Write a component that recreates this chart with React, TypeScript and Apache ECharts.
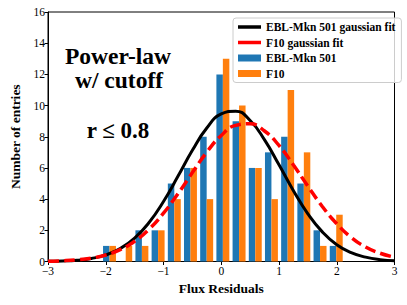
import React, { useEffect, useRef } from "react";
import * as echarts from "echarts";

const binEdges = [-2.075, -1.795, -1.514, -1.234, -0.953, -0.673, -0.393, -0.112, 0.168, 0.449, 0.729, 1.009, 1.29, 1.57, 1.851, 2.131];
const eblCounts = [1, 0, 2, 2, 5, 6, 8, 12, 9, 6, 7, 8, 5, 2, 1];
const f10Counts = [1, 1, 1, 2, 4, 6, 4, 13, 10, 6, 4, 11, 7, 1, 3];

const curveX = [-3, -2.75, -2.5, -2.25, -2, -1.75, -1.5, -1.25, -1, -0.75, -0.5, -0.25, 0, 0.25, 0.5, 0.75, 1, 1.25, 1.5, 1.75, 2, 2.25, 2.5, 2.75, 3];
const eblFit = [0.012, 0.033, 0.084, 0.196, 0.42, 0.83, 1.5, 2.5, 3.85, 5.46, 7.13, 8.56, 9.46, 9.64, 9.04, 7.8, 6.2, 4.54, 3.06, 1.9, 1.08, 0.57, 0.28, 0.12, 0.05];
const f10Fit = [0.02, 0.047, 0.105, 0.217, 0.42, 0.76, 1.3, 2.07, 3.1, 4.34, 5.7, 7.01, 8.08, 8.73, 8.83, 8.37, 7.44, 6.19, 4.83, 3.53, 2.42, 1.55, 0.93, 0.53, 0.28];

const xTicks = [-3, -2, -1, 0, 1, 2, 3];
const yTicks = [0, 2, 4, 6, 8, 10, 12, 14, 16];

const SERIF = "Liberation Serif";
const LINE_ICON = "path://M0,0 L46,0 L46,7 L0,7 Z";

function barRender(offsetFrac: number) {
  return (params: any, api: any) => {
    const i = params.dataIndex;
    const left = binEdges[i];
    const w = binEdges[i + 1] - binEdges[i];
    const x0 = left + w * offsetFrac;
    const x1 = left + w * (offsetFrac + 0.4);
    const p0 = api.coord([x0, api.value(1)]);
    const p1 = api.coord([x1, 0]);
    return {
      type: "rect",
      shape: { x: p0[0], y: p0[1], width: p1[0] - p0[0], height: p1[1] - p0[1] },
      style: api.style(),
    };
  };
}

export default function App() {
  const ref = useRef<HTMLDivElement>(null);
  useEffect(() => {
    document.body.style.margin = "0";
    const chart = echarts.init(ref.current!, null, { renderer: "svg" });
    const minus = (v: number) => String(v).replace("-", "\u2212");
    chart.setOption({
      animation: false,
      backgroundColor: "#fff",
      textStyle: { fontFamily: SERIF },
      grid: {
        left: 44,
        right: 12.5,
        top: 12,
        bottom: 43.5,
        show: true,
        borderColor: "#000",
        borderWidth: 1,
        backgroundColor: "transparent",
      },
      xAxis: {
        type: "value",
        min: xTicks[0],
        max: xTicks[xTicks.length - 1],
        interval: 1,
        name: "Flux Residuals",
        nameLocation: "middle",
        nameGap: 19,
        nameTextStyle: { fontFamily: SERIF, fontWeight: "bold", fontSize: 13.5, color: "#000" },
        axisLine: { show: true, onZero: false, lineStyle: { color: "#000", width: 1 } },
        axisTick: { show: true, length: 3.5, lineStyle: { color: "#000" } },
        axisLabel: { fontFamily: SERIF, fontSize: 11.5, color: "#000", margin: 3, formatter: minus },
        splitLine: { show: false },
      },
      yAxis: {
        type: "value",
        min: yTicks[0],
        max: yTicks[yTicks.length - 1],
        interval: 2,
        name: "Number of entries",
        nameLocation: "middle",
        nameGap: 26,
        nameTextStyle: { fontFamily: SERIF, fontWeight: "bold", fontSize: 13.5, color: "#000" },
        axisLine: { show: true, onZero: false, lineStyle: { color: "#000", width: 1 } },
        axisTick: { show: true, length: 3.5, lineStyle: { color: "#000" } },
        axisLabel: { fontFamily: SERIF, fontSize: 11.5, color: "#000", margin: 3 },
        splitLine: { show: false },
      },
      legend: {
        orient: "vertical",
        left: 233,
        top: 18,
        padding: [3, 6, 3, 5],
        itemGap: 3.5,
        itemWidth: 23,
        itemHeight: 7,
        symbolKeepAspect: true,
        borderColor: "#ccc",
        borderWidth: 1,
        borderRadius: 3,
        backgroundColor: "rgba(255,255,255,0.8)",
        textStyle: { fontFamily: SERIF, fontWeight: "bold", fontSize: 11.5, color: "#000" },
        data: [
          { name: "EBL-Mkn 501 gaussian fit", icon: LINE_ICON, itemStyle: { color: "#000" } },
          { name: "F10 gaussian fit", icon: LINE_ICON, itemStyle: { color: "#ff0000" } },
          { name: "EBL-Mkn 501", icon: "rect" },
          { name: "F10", icon: "rect" },
        ],
      },
      graphic: [
        { type: "text", x: 118, y: 55.5, style: { text: "Power-law", fontFamily: SERIF, fontWeight: "bold", fontSize: 23.5, fill: "#000", align: "center", verticalAlign: "middle" } },
        { type: "text", x: 119, y: 79.5, style: { text: "w/ cutoff", fontFamily: SERIF, fontWeight: "bold", fontSize: 23.5, fill: "#000", align: "center", verticalAlign: "middle" } },
        { type: "text", x: 118, y: 130, style: { text: "r \u2264 0.8", fontFamily: SERIF, fontWeight: "bold", fontSize: 23, fill: "#000", align: "center", verticalAlign: "middle" } },
      ],
      series: [
        {
          name: "EBL-Mkn 501",
          type: "custom",
          renderItem: barRender(0.1),
          itemStyle: { color: "#1f77b4" },
          encode: { x: 0, y: 1 },
          data: eblCounts.map((c, i) => [binEdges[i], c]),
          z: 2,
        },
        {
          name: "F10",
          type: "custom",
          renderItem: barRender(0.5),
          itemStyle: { color: "#ff7f0e" },
          encode: { x: 0, y: 1 },
          data: f10Counts.map((c, i) => [binEdges[i], c]),
          z: 2,
        },
        {
          name: "EBL-Mkn 501 gaussian fit",
          type: "line",
          smooth: true,
          showSymbol: false,
          symbol: "none",
          lineStyle: { color: "#000", width: 3 },
          itemStyle: { color: "#000" },
          data: curveX.map((x, i) => [x, eblFit[i]]),
          z: 3,
        },
        {
          name: "F10 gaussian fit",
          type: "line",
          smooth: true,
          showSymbol: false,
          symbol: "none",
          lineStyle: { color: "#ff0000", width: 3.5, type: [11, 5] },
          itemStyle: { color: "#ff0000" },
          data: curveX.map((x, i) => [x, f10Fit[i]]),
          z: 4,
        },
      ],
    });
    return () => chart.dispose();
  }, []);
  return <div ref={ref} style={{ width: 407, height: 305 }} />;
}
